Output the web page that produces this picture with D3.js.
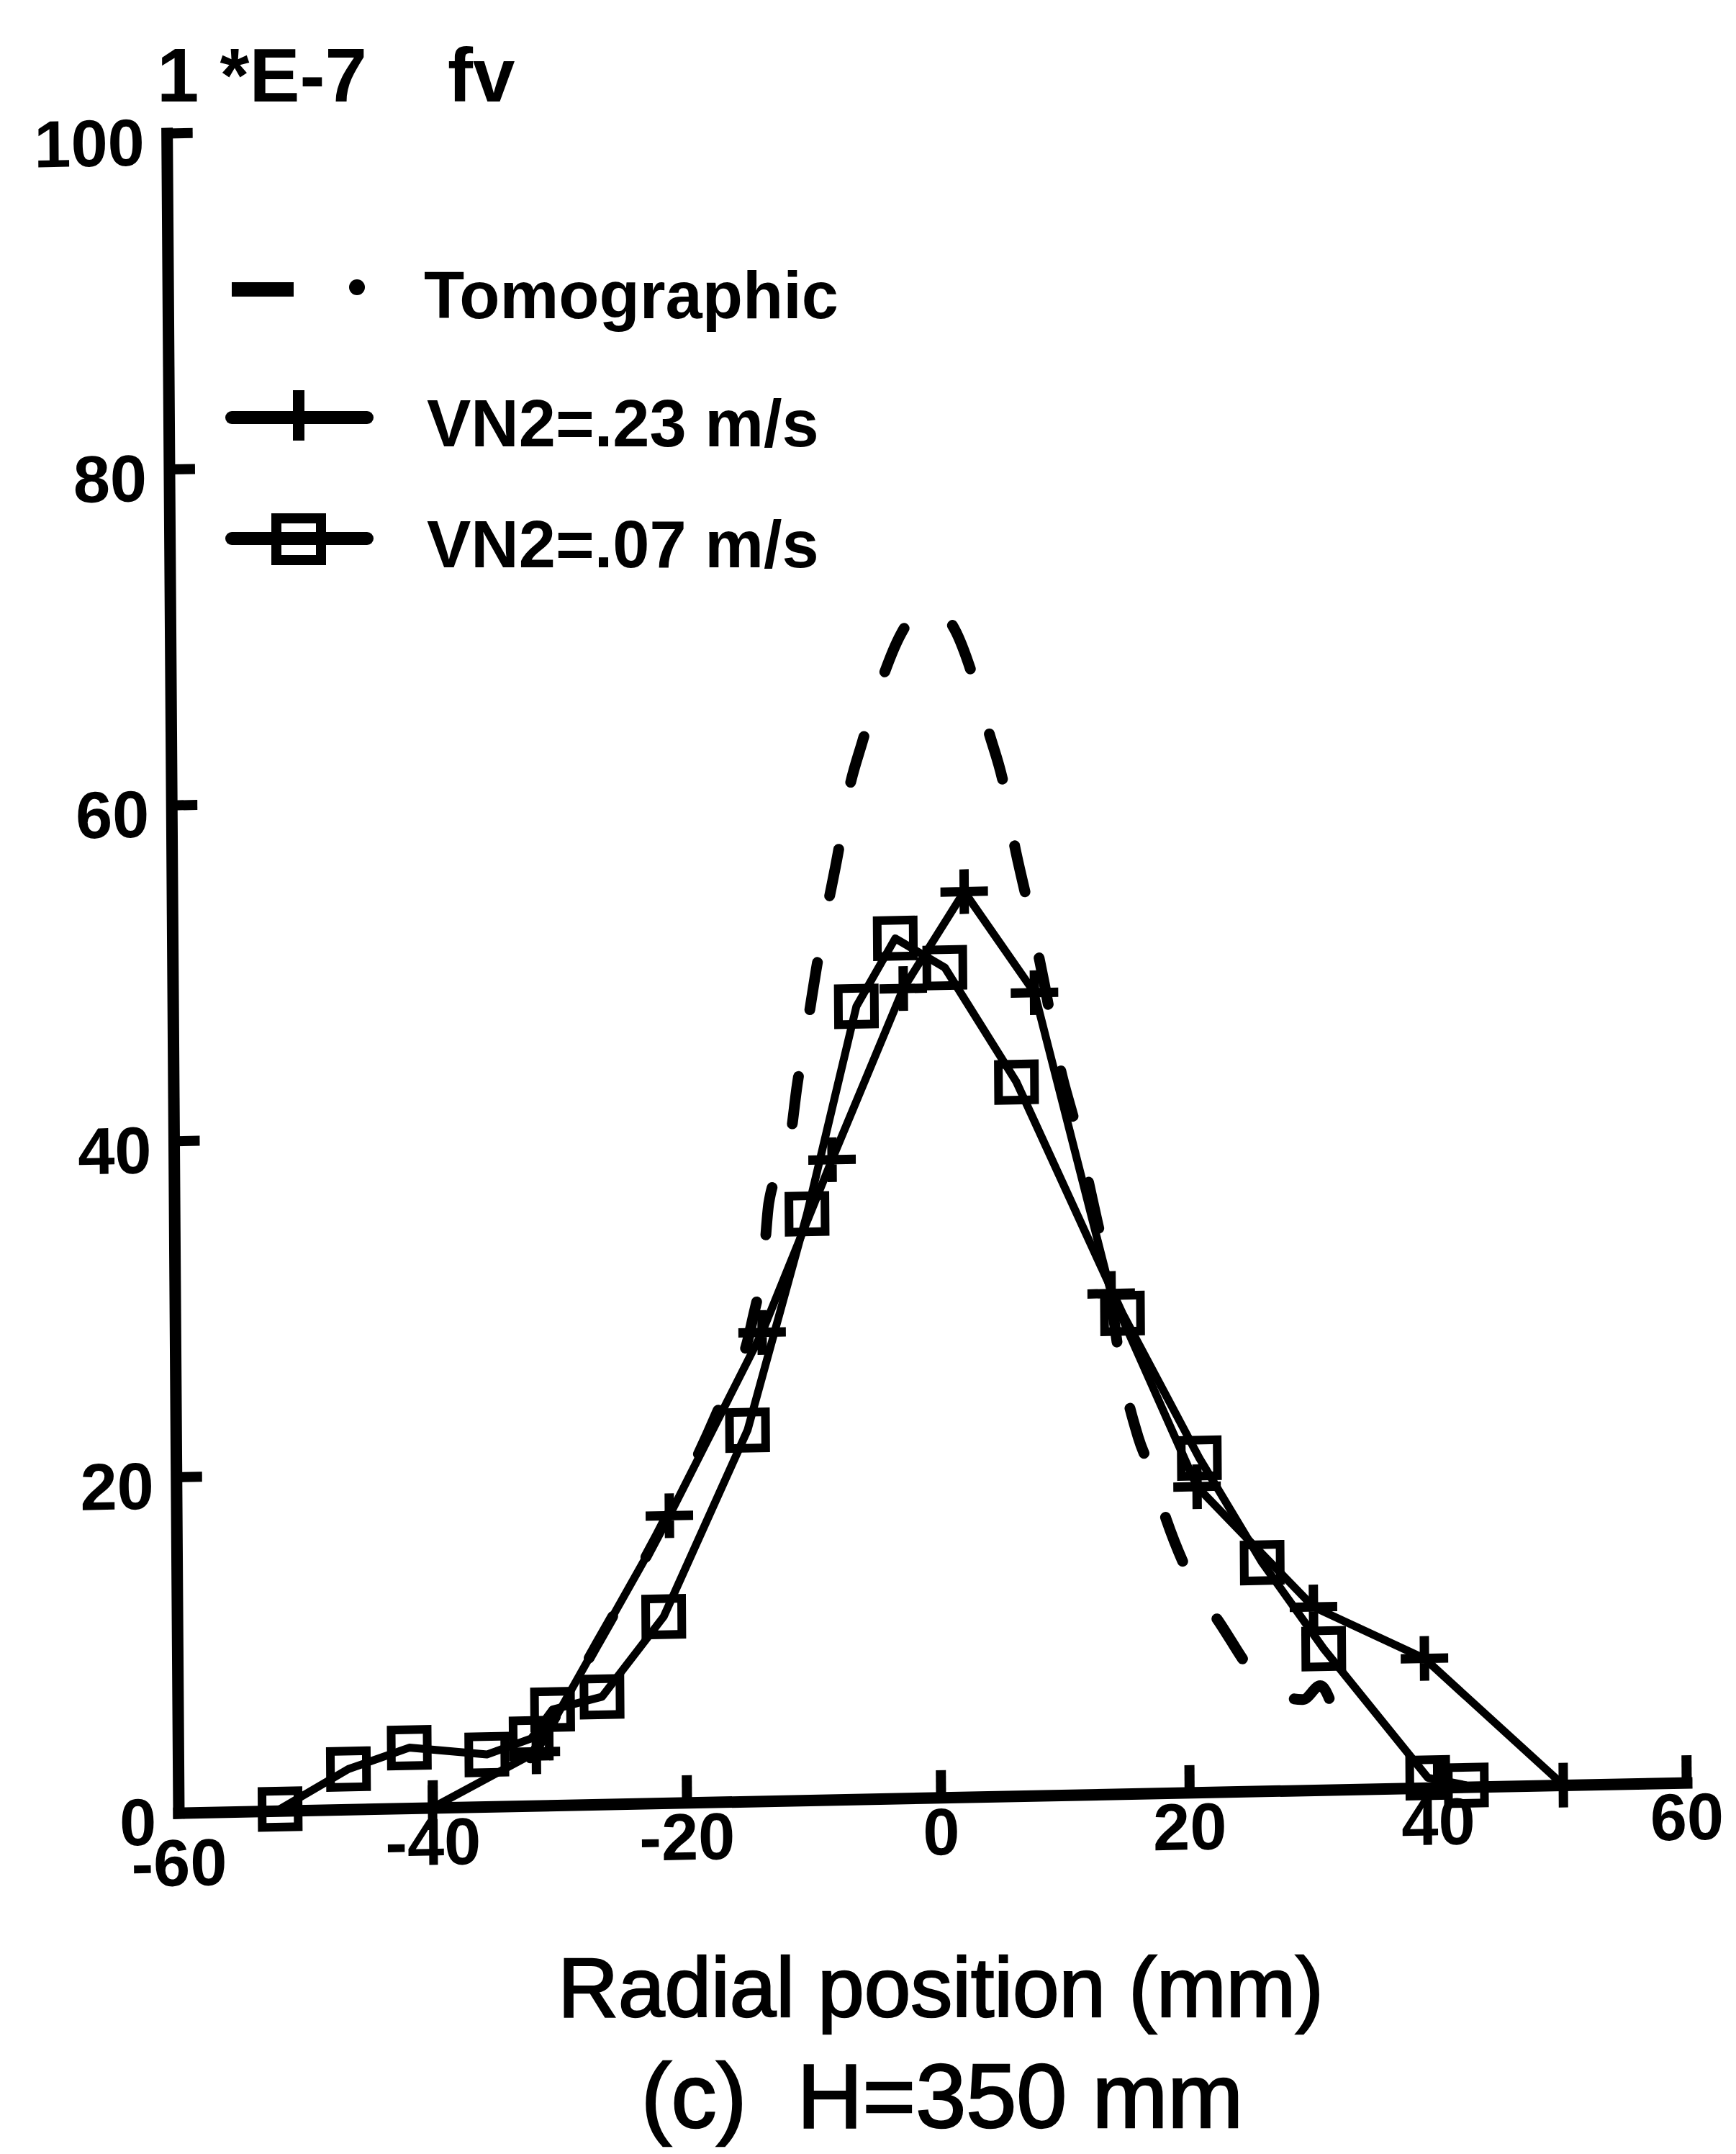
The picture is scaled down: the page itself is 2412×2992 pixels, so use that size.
<!DOCTYPE html>
<html>
<head>
<meta charset="utf-8">
<script src="https://cdn.jsdelivr.net/npm/d3@7"></script>
<style>
  html, body { margin: 0; padding: 0; background: #fff; }
  svg { display: block; }
</style>
</head>
<body>
<svg id="chart" width="2412" height="2992"></svg>
<script>
// Axis ticks
const xTicks = [-60, -40, -20, 0, 20, 40, 60];
const yTicks = [0, 20, 40, 60, 80, 100];

// Series labels
const seriesNames = ["Tomographic", "VN2=.23 m/s", "VN2=.07 m/s"];

// Tomographic profile (dashed curve)
const tomoX = [-33, -31.8, -27, -21.2, -17.5, -14.6, -13.6, -13.2, -11.5, -10.9, -10.1, -9.35, -8.54, -7.57, -6.75, -5.56, -4.2, -2.5, -0.3, 1.8, 3.3, 4.46, 5.67, 6.4, 7.5, 8.8, 10.05, 11.2, 12.6, 13.7, 14.6, 16.1, 17.1, 18.3, 20.2, 22.6, 25.5, 29.2, 30.6, 31.8];
const tomoY = [2.0, 3.4, 9.5, 17.3, 23, 28.5, 32.5, 35.6, 39.3, 42.6, 46.0, 49.4, 52.7, 56.3, 59.8, 63.0, 66.2, 69.3, 71.0, 69.5, 66.5, 63.4, 60.1, 56.9, 53.1, 48.3, 43.2, 39.9, 35.2, 31.1, 26.1, 21.2, 19.2, 16.3, 12.8, 10.0, 6.8, 5.4, 6.2, 4.4];

// VN2 = .23 m/s (plus markers)
const plusX = [-40, -31.8, -21.2, -13.8, -8.2, -2.5, 2.4, 8.0, 14.0, 20.8, 30.1, 39.0, 50.1];
const plusY = [0, 3.2, 17.1, 27.9, 38.1, 48.2, 53.9, 47.8, 29.8, 18.2, 10.9, 7.7, 0];

// VN2 = .07 m/s (square markers)
const squareX = [-52.0, -46.6, -41.8, -35.7, -32.2, -30.5, -26.6, -21.7, -15.0, -10.2, -6.2, -3.1, 0.8, 6.5, 14.9, 21.0, 26.0, 30.9, 39.2, 42.3];
const squareY = [0.1, 2.4, 3.6, 3.1, 4.0, 5.7, 6.4, 11.1, 22.1, 34.9, 47.2, 51.2, 49.4, 42.5, 28.6, 19.9, 13.6, 8.4, 0.6, 0.1];

const zip = (xs, ys) => xs.map((v, i) => ({ x: v, y: ys[i] }));
const tomo = zip(tomoX, tomoY);
const plus = zip(plusX, plusY);
const squares = zip(squareX, squareY);

const svg = d3.select("#chart");
const FONT = "'Liberation Sans', Arial, Helvetica, sans-serif";

const x = d3.scaleLinear().domain([-60, 0, 60]).range([248, 1307, 2343]);
const y = d3.scaleLinear().domain([0, 100]).range([2518, 185]);

// The printed frame is slightly sheared: baseline rises to the right, y axis leans left.
const shearB = -0.02, shearC = 0.007;
const x0 = x(-60), y0 = y(0);
const plot = svg.append("g")
  .attr("transform", `matrix(1,${shearB},${shearC},1,${-shearC * y0},${-shearB * x0})`);

// X axis
const xAxis = plot.append("g")
  .attr("transform", `translate(0,${y0})`)
  .call(d3.axisBottom(x).tickValues(xTicks).tickSize(-38).tickSizeOuter(0).tickPadding(14)
        .tickFormat(d => d < 0 ? "-" + Math.abs(d) : String(d)));

// Y axis
const yAxis = plot.append("g")
  .attr("transform", `translate(${x0},0)`)
  .call(d3.axisLeft(y).tickValues(yTicks).tickSize(-36).tickSizeOuter(0).tickPadding(31));

[xAxis, yAxis].forEach(g => {
  g.attr("font-family", FONT).attr("font-size", 92).attr("font-weight", "bold");
  g.select(".domain").attr("stroke", "#000").attr("stroke-width", 16).attr("stroke-linecap", "square");
  g.selectAll(".tick line").attr("stroke", "#000").attr("stroke-width", 14);
  g.selectAll(".tick text").attr("fill", "#000");
});
yAxis.selectAll(".tick text").attr("dy", "0.47em");
// the -60 label sits a little lower than the others
xAxis.selectAll(".tick").filter(d => d === -60).select("text").attr("dy", "0.95em");
// no tick mark at the origin on either axis
xAxis.selectAll(".tick").filter(d => d === -60).select("line").remove();
yAxis.selectAll(".tick").filter(d => d === 0).select("line").remove();

// Tomographic dashed curve, with a gap falling on the peak
const curveLine = d3.line().x(d => x(d.x)).y(d => y(d.y)).curve(d3.curveMonotoneX);
const DASH = 66, GAP = 94, PERIOD = DASH + GAP;
const tomoPath = plot.append("path")
  .datum(tomo)
  .attr("d", curveLine)
  .attr("fill", "none")
  .attr("stroke", "#000")
  .attr("stroke-width", 15)
  .attr("stroke-linecap", "round")
  .attr("stroke-dasharray", `${DASH} ${GAP}`);
const peakIndex = d3.maxIndex(tomo, d => d.y);
const probe = plot.append("path").attr("d", curveLine(tomo.slice(0, peakIndex + 1))).attr("fill", "none");
const peakLen = probe.node().getTotalLength();
probe.remove();
const gapCentre = DASH + GAP / 2;
tomoPath.attr("stroke-dashoffset", ((gapCentre - peakLen) % PERIOD + PERIOD) % PERIOD);

// Measured profiles
const straight = d3.line().x(d => x(d.x)).y(d => y(d.y));
[plus, squares].forEach(series => {
  plot.append("path")
    .datum(series)
    .attr("d", straight)
    .attr("fill", "none")
    .attr("stroke", "#000")
    .attr("stroke-width", 11)
    .attr("stroke-linejoin", "round");
});

plot.append("g").selectAll("path")
  .data(plus)
  .join("path")
  .attr("transform", d => `translate(${x(d.x)},${y(d.y)})`)
  .attr("d", "M-33,0H33M0,-31V31")
  .attr("stroke", "#000")
  .attr("stroke-width", 13)
  .attr("fill", "none");

plot.append("g").selectAll("rect")
  .data(squares)
  .join("rect")
  .attr("x", d => x(d.x) - 25)
  .attr("y", d => y(d.y) - 25)
  .attr("width", 50)
  .attr("height", 50)
  .attr("fill", "none")
  .attr("stroke", "#000")
  .attr("stroke-width", 12);

// Unit label above the y axis
const unit = svg.append("g").attr("font-family", FONT).attr("font-weight", "bold").attr("font-size", 105).attr("fill", "#000");
unit.append("text").attr("x", 218).attr("y", 141).text("1 *E-7");
unit.append("text").attr("x", 622).attr("y", 141).text("fv");

// Legend
const legend = svg.append("g").attr("font-family", FONT).attr("font-weight", "bold").attr("font-size", 92).attr("fill", "#000");
const rows = [402, 580, 748];
legend.append("line").attr("x1", 322).attr("x2", 408).attr("y1", rows[0]).attr("y2", rows[0])
  .attr("stroke", "#000").attr("stroke-width", 20);
legend.append("circle").attr("cx", 496).attr("cy", rows[0] - 3).attr("r", 11).attr("fill", "#000");

legend.append("line").attr("x1", 322).attr("x2", 510).attr("y1", rows[1]).attr("y2", rows[1])
  .attr("stroke", "#000").attr("stroke-width", 18).attr("stroke-linecap", "round");
legend.append("line").attr("x1", 415).attr("x2", 415).attr("y1", rows[1] - 38).attr("y2", rows[1] + 32)
  .attr("stroke", "#000").attr("stroke-width", 16);

legend.append("line").attr("x1", 322).attr("x2", 510).attr("y1", rows[2]).attr("y2", rows[2])
  .attr("stroke", "#000").attr("stroke-width", 18).attr("stroke-linecap", "round");
legend.append("rect").attr("x", 384).attr("y", rows[2] - 28).attr("width", 62).attr("height", 58)
  .attr("fill", "none").attr("stroke", "#000").attr("stroke-width", 14);

legend.selectAll("text.label")
  .data(seriesNames)
  .join("text")
  .attr("class", "label")
  .attr("x", (d, i) => i === 0 ? 589 : 593)
  .attr("y", (d, i) => rows[i] + 40)
  .text(d => d);

// Axis title and caption
svg.append("text")
  .attr("x", 1307).attr("y", 2801)
  .attr("text-anchor", "middle")
  .attr("font-family", FONT).attr("font-size", 116)
  .attr("fill", "#000").attr("stroke", "#000").attr("stroke-width", 2.5)
  .text("Radial position (mm)");

svg.append("text")
  .attr("x", 1309).attr("y", 2955)
  .attr("text-anchor", "middle")
  .attr("font-family", FONT).attr("font-size", 126)
  .attr("fill", "#000").attr("stroke", "#000").attr("stroke-width", 2.5)
  .style("white-space", "pre")
  .text("(c)  H=350 mm");
</script>
</body>
</html>
